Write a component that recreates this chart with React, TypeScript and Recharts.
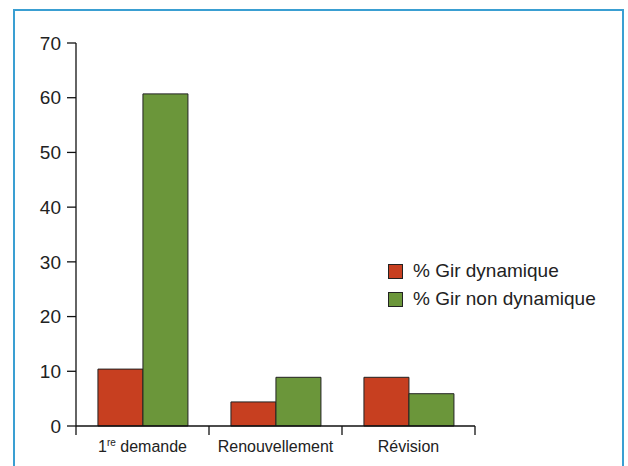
import React from 'react';
import { BarChart, Bar, XAxis, YAxis, Legend } from 'recharts';

const categories = ['1re demande', 'Renouvellement', 'Révision'];
const girDynamique = [10.4, 4.4, 8.9];
const girNonDynamique = [60.7, 8.9, 5.9];
const yTicks = [0, 10, 20, 30, 40, 50, 60, 70];
const seriesNames = ['% Gir dynamique', '% Gir non dynamique'];

const data = categories.map((c, i) => ({
  name: c,
  dyn: girDynamique[i],
  nondyn: girNonDynamique[i],
}));

const FONT = '"Liberation Sans", Arial, sans-serif';
const X_TICK_SIZE = 9;
const X_TICK_MARGIN = 6;

const CategoryTick = (props: any) => {
  const { x, y, payload, index, visibleTicksCount } = props;
  const half = payload && payload.offset ? payload.offset : 0;
  const axisY = y - X_TICK_SIZE - X_TICK_MARGIN;
  const label: string = payload.value;
  const isFirst = label.startsWith('1re');
  return (
    <g>
      <line x1={x - half} x2={x - half} y1={axisY} y2={axisY + X_TICK_SIZE} stroke="#111" strokeWidth={1.3} />
      {index === visibleTicksCount - 1 && (
        <line x1={x + half} x2={x + half} y1={axisY} y2={axisY + X_TICK_SIZE} stroke="#111" strokeWidth={1.3} />
      )}
      <text x={x} y={y} dy="0.71em" textAnchor="middle" fontFamily={FONT} fontSize={16} fill="#222">
        {isFirst ? (
          <>
            <tspan>1</tspan>
            <tspan fontSize={10} dy={-6}>re</tspan>
            <tspan dy={6}>{label.slice(3)}</tspan>
          </>
        ) : (
          label
        )}
      </text>
    </g>
  );
};

const LegendContent = (props: any) => {
  const { payload } = props;
  return (
    <div style={{ fontFamily: FONT, fontSize: 19, color: '#222' }}>
      {(payload || []).map((p: any, i: number) => (
        <div key={i} style={{ display: 'flex', alignItems: 'center', height: 28 }}>
          <span
            style={{
              display: 'inline-block',
              width: 13,
              height: 13,
              background: p.color,
              border: '1px solid #222',
              marginRight: 10,
            }}
          />
          <span>{p.value}</span>
        </div>
      ))}
    </div>
  );
};

export default function App() {
  return (
    <div style={{ position: 'absolute', left: 0, top: 0, width: 628, height: 466, overflow: 'hidden', background: '#fff' }}>
      <div
        style={{
          position: 'absolute',
          left: 13,
          top: 9,
          width: 607,
          height: 480,
          border: '2px solid #3a9fd2',
        }}
      />
      <div style={{ position: 'absolute', left: 0, top: 0 }}>
        <BarChart
          width={628}
          height={466}
          data={data}
          margin={{ top: 43, right: 153, left: 16, bottom: 10 }}
          barCategoryGap="16.5%"
          barGap={0}
        >
          <XAxis
            dataKey="name"
            height={30}
            axisLine={{ stroke: '#111', strokeWidth: 1.3 }}
            tickLine={false}
            tickSize={X_TICK_SIZE}
            tickMargin={X_TICK_MARGIN}
            tick={<CategoryTick />}
            interval={0}
          />
          <YAxis
            width={60}
            domain={[0, 70]}
            ticks={yTicks}
            interval={0}
            axisLine={{ stroke: '#111', strokeWidth: 1.3 }}
            tickLine={{ stroke: '#111', strokeWidth: 1.3 }}
            tickSize={9}
            tickMargin={6}
            tick={{ fontFamily: FONT, fontSize: 19, fill: '#222' }}
          />
          <Legend
            layout="vertical"
            align="center"
            verticalAlign="middle"
            content={<LegendContent />}
            wrapperStyle={{ position: 'absolute', left: 388, top: 257, width: 240 }}
          />
          <Bar dataKey="dyn" name={seriesNames[0]} fill="#c73f20" stroke="#222" strokeWidth={1} isAnimationActive={false} />
          <Bar dataKey="nondyn" name={seriesNames[1]} fill="#6b963a" stroke="#222" strokeWidth={1} isAnimationActive={false} />
        </BarChart>
      </div>
    </div>
  );
}
